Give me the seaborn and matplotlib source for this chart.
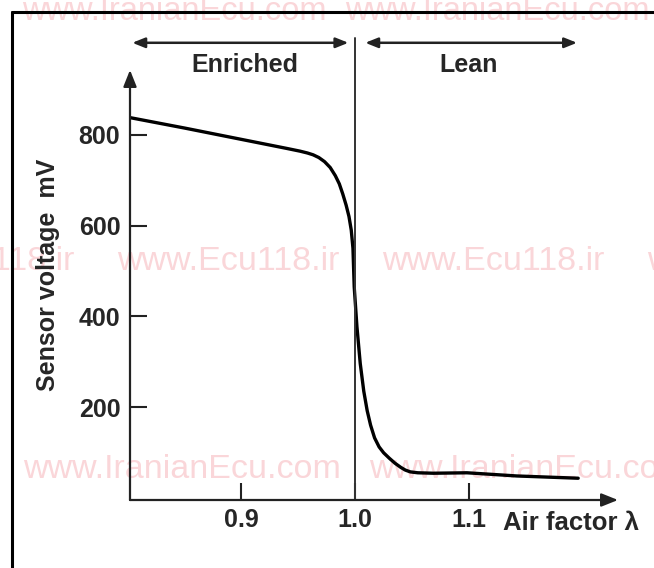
import matplotlib
matplotlib.use("Agg")
import matplotlib.pyplot as plt
import seaborn as sns
import pandas as pd
from matplotlib.lines import Line2D

# Lambda sensor characteristic: air factor vs. sensor voltage
air_factor = [0.802, 0.85, 0.90, 0.94, 0.9516, 0.958, 0.963, 0.968, 0.973, 0.978,
              0.9825, 0.986, 0.989, 0.992, 0.9945, 0.9965, 0.998, 0.9991, 1.0015,
              1.0044, 1.0075, 1.0105, 1.0135, 1.017, 1.021, 1.025, 1.030, 1.035,
              1.040, 1.044, 1.0484, 1.055, 1.0686, 1.0982, 1.142, 1.196]
voltage_mv = [838, 815, 790, 770, 764, 760, 756, 750, 741, 728,
              710, 692, 670, 645, 620, 590, 550, 465, 377,
              296, 235, 192, 160, 132, 112, 99, 87, 76,
              67, 61, 57, 55, 54, 55, 48, 43]

x_ticks = [0.9, 1.0, 1.1]
x_tick_labels = ["0.9", "1.0", "1.1"]
y_ticks = [200, 400, 600, 800]
y_tick_labels = ["200", "400", "600", "800"]

regions = ["Enriched", "Lean"]
region_centers = [0.903, 1.0994]
region_spans = [(0.804, 0.994), (1.0088, 1.195)]

watermark_rows = [
    ("www.IranianEcu.com", 20, [22, 345], 23.5),
    ("www.Ecu118.ir", 270, [-148, 117, 382, 647], 24.5),
    ("www.IranianEcu.com", 478, [23, 369], 24.5),
]

sns.set_theme(style="white")
plt.rcParams["font.family"] = ["Liberation Sans", "DejaVu Sans"]

W, H = 654, 568
fig = plt.figure(figsize=(W / 100, H / 100), dpi=100)
fig.patch.set_facecolor("white")

# axes box: y axis at x=130px, x axis at y=500px, arrow tips at 618px / 70px
ax = fig.add_axes([130 / W, 1 - 500 / H, (618 - 130) / W, (500 - 70) / H])
ax.patch.set_visible(False)
ax.set_xlim(0.802, 1.231)
ax.set_ylim(-5, 943)

df = pd.DataFrame({"lam": air_factor, "mv": voltage_mv})
sns.lineplot(data=df, x="lam", y="mv", ax=ax, color="black", lw=2.4,
             sort=False, estimator=None)
ax.lines[-1].set_solid_joinstyle("round")

for s in ax.spines.values():
    s.set_visible(False)

# axis lines with arrow heads
axis_arrow = dict(arrowstyle="-|>,head_length=0.5,head_width=0.2", color="#222222",
                  lw=1.6, mutation_scale=20, shrinkA=0, shrinkB=0)
ax.annotate("", xy=(0, 1), xytext=(0, 0), xycoords="axes fraction", arrowprops=axis_arrow)
ax.annotate("", xy=(1, 0), xytext=(0, 0), xycoords="axes fraction", arrowprops=axis_arrow)

ax.set_xticks(x_ticks)
ax.set_xticklabels(x_tick_labels, fontweight="bold", fontsize=18)
ax.set_yticks(y_ticks)
ax.set_yticklabels(y_tick_labels, fontweight="bold", fontsize=18)
ax.tick_params(axis="both", direction="in", length=12, width=1.5, color="#222222",
               bottom=True, left=True)
ax.tick_params(axis="x", pad=6)
ax.tick_params(axis="y", pad=7)

ax.set_ylabel("Sensor voltage  mV", fontweight="bold", fontsize=18, va="center")
ax.yaxis.set_label_coords(-0.168, 0.523)
ax.set_xlabel("Air factor λ", fontweight="bold", fontsize=18.5, ha="left", va="center")
ax.xaxis.set_label_coords((503 - 130) / 488, -0.0535)

# stoichiometric divider and region arrows
ax.axvline(1.0, ymin=0, ymax=(1014 + 5) / 948, color="#333333", lw=1.4, clip_on=False)
region_arrow = dict(arrowstyle="<|-|>,head_length=0.5,head_width=0.2", color="#222222",
                    lw=1.8, mutation_scale=15, shrinkA=0, shrinkB=0)
for name, cx, (x0, x1) in zip(regions, region_centers, region_spans):
    ax.annotate("", xy=(x0, 1003), xytext=(x1, 1003), arrowprops=region_arrow,
                annotation_clip=False)
    ax.text(cx, 955, name, ha="center", va="center", fontweight="bold",
            fontsize=18, clip_on=False)

# frame (left and top edges visible)
fig.add_artist(Line2D([12 / W, 12 / W], [0, 1 - 12 / H], transform=fig.transFigure,
                      color="black", lw=2.2))
fig.add_artist(Line2D([12 / W, 1], [1 - 12 / H, 1 - 12 / H], transform=fig.transFigure,
                      color="black", lw=2.2))

# watermarks
for label, base_y, xs, size in watermark_rows:
    for x in xs:
        fig.text(x / W, 1 - base_y / H, label, fontsize=size, color="#fad6d9",
                 ha="left", va="baseline", zorder=-1)

fig.savefig("out.png", dpi=100, facecolor="white")
